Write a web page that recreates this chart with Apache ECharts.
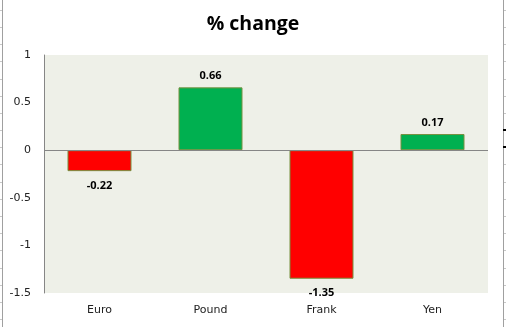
<!DOCTYPE html>
<html>
<head>
<meta charset="utf-8">
<style>
  html, body { margin: 0; padding: 0; background: #ffffff; }
  #chart { width: 506px; height: 327px; }
</style>
<script src="https://cdn.jsdelivr.net/npm/echarts@6/dist/echarts.min.js"></script>
</head>
<body>
<div id="chart"></div>
<script>
// Currency moves, in percent
const currencies = ['Euro', 'Pound', 'Frank', 'Yen'];
const pctChange = [-0.22, 0.66, -1.35, 0.17];
const yTicks = [-1.5, -1, -0.5, 0, 0.5, 1];

const GAIN = '#00B050';
const LOSS = '#FF0000';
const EDGE = '#77903F';

// Worksheet row rules peeking out at both sides of the chart object
const rowRules = [10, 27, 44, 61, 79, 96, 113, 130, 147, 164, 182, 199, 216, 233, 250, 268, 285, 302, 319];

const chart = echarts.init(document.getElementById('chart'), null, { renderer: 'canvas' });

const sheetGraphics = [
  { type: 'line', shape: { x1: 2.5, y1: 0, x2: 2.5, y2: 327 }, style: { stroke: '#a0a0a0', lineWidth: 1 }, silent: true },
  { type: 'line', shape: { x1: 503.5, y1: 0, x2: 503.5, y2: 327 }, style: { stroke: '#a0a0a0', lineWidth: 1 }, silent: true }
];
rowRules.forEach(function (y) {
  sheetGraphics.push({ type: 'line', shape: { x1: 0, y1: y + 0.5, x2: 2, y2: y + 0.5 }, style: { stroke: '#c8c8c8', lineWidth: 1 }, silent: true });
  sheetGraphics.push({ type: 'line', shape: { x1: 504, y1: y + 0.5, x2: 506, y2: y + 0.5 }, style: { stroke: '#c8c8c8', lineWidth: 1 }, silent: true });
});
// selection handles on the right border
[129, 146].forEach(function (y) {
  sheetGraphics.push({ type: 'rect', shape: { x: 503, y: y, width: 3, height: 2 }, style: { fill: '#000000' }, silent: true });
});

chart.setOption({
  animation: false,
  backgroundColor: '#ffffff',
  title: {
    text: '% change',
    left: 'center',
    top: 9,
    textStyle: { fontFamily: 'Open Sans', fontWeight: 'bold', fontSize: 19.5, color: '#000000' }
  },
  grid: {
    left: 44, right: 18, top: 55, bottom: 34,
    show: true,
    backgroundColor: '#EEF0E8',
    borderWidth: 0
  },
  xAxis: {
    type: 'category',
    data: currencies,
    axisLine: { show: false },
    axisTick: { show: false },
    axisLabel: { fontFamily: 'DejaVu Sans', fontSize: 11, color: '#222222', margin: 12 }
  },
  yAxis: {
    type: 'value',
    min: yTicks[0],
    max: yTicks[yTicks.length - 1],
    interval: 0.5,
    axisLine: { show: true, onZero: false, lineStyle: { color: '#868686', width: 1 } },
    axisTick: { show: false },
    splitLine: { show: false },
    axisLabel: { fontFamily: 'DejaVu Sans', fontSize: 11, color: '#222222', margin: 13 }
  },
  series: [{
    type: 'bar',
    barWidth: 64,
    data: pctChange.map(function (v) {
      return {
        value: v,
        itemStyle: { color: v >= 0 ? GAIN : LOSS, borderColor: EDGE, borderWidth: 1 },
        label: { position: v >= 0 ? 'top' : 'bottom', distance: v >= 0 ? 6 : 9 }
      };
    }),
    label: {
      show: true,
      fontFamily: 'Open Sans',
      fontWeight: 'bold',
      fontSize: 11,
      color: '#000000',
      formatter: function (p) { return String(p.value); }
    },
    markLine: {
      silent: true,
      symbol: 'none',
      label: { show: false },
      lineStyle: { color: '#868686', width: 1, type: 'solid' },
      data: [{ yAxis: 0 }]
    }
  }],
  graphic: sheetGraphics
});
</script>
</body>
</html>
